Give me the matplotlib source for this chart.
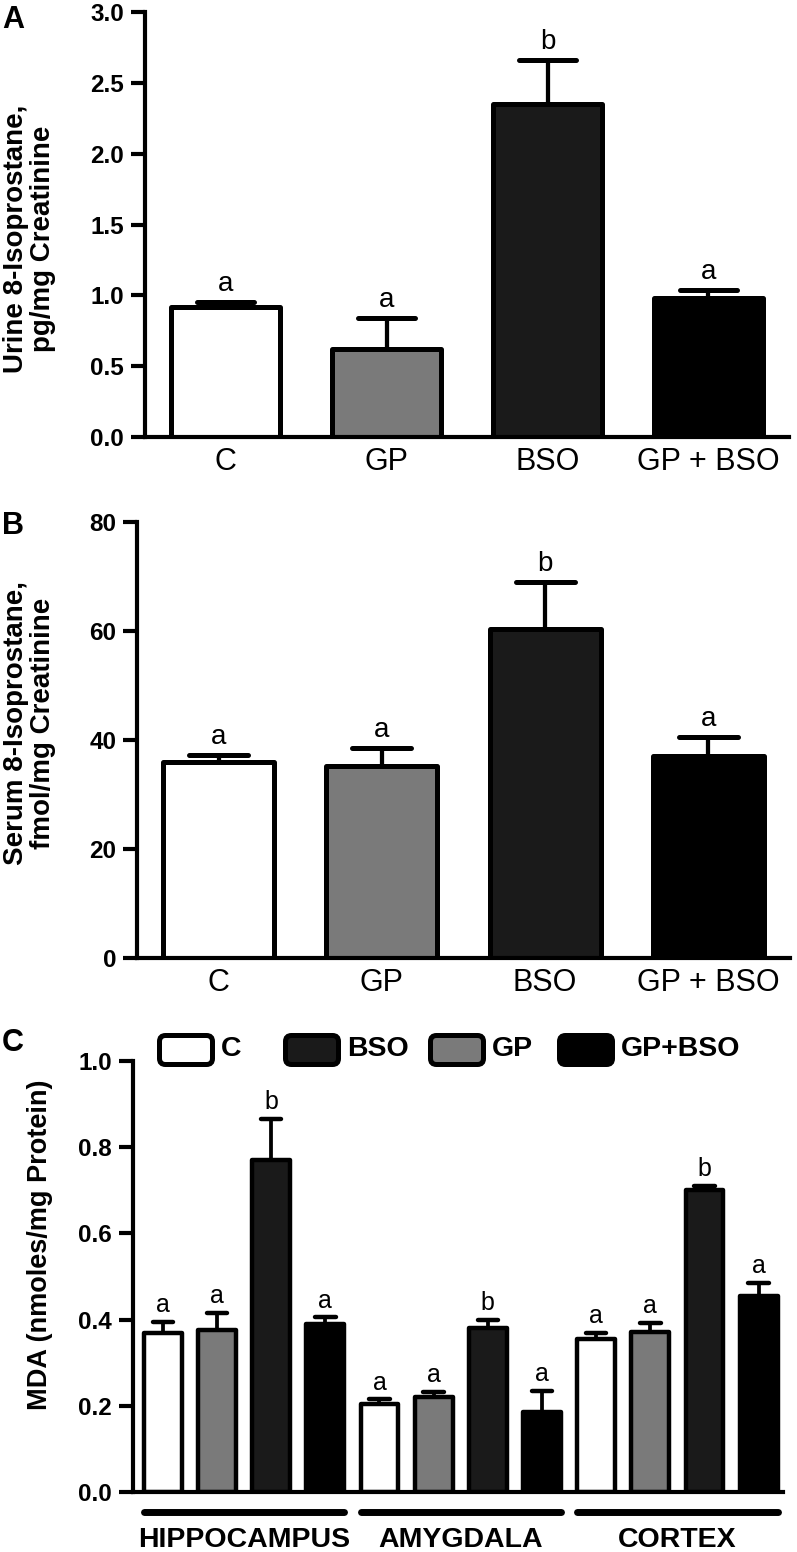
import matplotlib.pyplot as plt
from matplotlib.patches import FancyBboxPatch

plt.rcParams['font.family'] = ['Liberation Sans', 'DejaVu Sans']

# --- data ---
groups = ['C', 'GP', 'BSO', 'GP + BSO']
bar_colors = ['white', '#7a7a7a', '#1a1a1a', 'black']

urine_mean = [0.92, 0.62, 2.35, 0.98]
urine_sem = [0.035, 0.22, 0.31, 0.06]
urine_sig = ['a', 'a', 'b', 'a']

serum_mean = [36.0, 35.2, 60.3, 37.0]
serum_sem = [1.3, 3.4, 8.6, 3.6]
serum_sig = ['a', 'a', 'b', 'a']

regions = ['HIPPOCAMPUS', 'AMYGDALA', 'CORTEX']
mda_c = [0.37, 0.205, 0.355]
mda_gp = [0.375, 0.22, 0.372]
mda_bso = [0.77, 0.38, 0.70]
mda_gpbso = [0.39, 0.185, 0.455]
mda_c_sem = [0.025, 0.01, 0.015]
mda_gp_sem = [0.04, 0.012, 0.02]
mda_bso_sem = [0.095, 0.02, 0.01]
mda_gpbso_sem = [0.015, 0.05, 0.03]
mda_sig = ['a', 'a', 'b', 'a',  'a', 'a', 'b', 'a',  'a', 'a', 'b', 'a']

legend_labels = ['C', 'BSO', 'GP', 'GP+BSO']
legend_colors = ['white', '#1a1a1a', '#7a7a7a', 'black']

W, H = 797, 1552
fig = plt.figure(figsize=(W / 100, H / 100), dpi=100)


def px_rect(l, t, r, b):
    return [l / W, 1 - b / H, (r - l) / W, (b - t) / H]


def style(ax):
    for s in ['top', 'right']:
        ax.spines[s].set_visible(False)
    for s in ['left', 'bottom']:
        ax.spines[s].set_linewidth(3)
        ax.spines[s].set_capstyle('projecting')
    ax.tick_params(axis='y', direction='out', length=10, width=3, labelsize=17.5, pad=5)
    ax.tick_params(axis='x', length=0, labelsize=22, pad=7)
    for lbl in ax.get_yticklabels():
        lbl.set_fontweight('bold')


def draw_bars(ax, x, means, sems, colors, width, lw, capw, sig, sig_size, sig_off):
    ax.bar(x, means, width, color=colors, edgecolor='black', linewidth=lw,
           joinstyle='round', zorder=2)
    tops = [m + s for m, s in zip(means, sems)]
    ax.vlines(x, means, tops, color='black', linewidth=lw * 0.85, zorder=1)
    ax.hlines(tops, [xi - capw / 2 for xi in x], [xi + capw / 2 for xi in x],
              color='black', linewidth=lw, capstyle='round', zorder=3)
    for xi, t, s in zip(x, tops, sig):
        ax.annotate(s, (xi, t), xytext=(0, sig_off), textcoords='offset points',
                    ha='center', va='baseline', fontsize=sig_size)


# panel A
axA = fig.add_axes(px_rect(145, 12, 789, 437))
xa = list(range(len(groups)))
draw_bars(axA, xa, urine_mean, urine_sem, bar_colors, 0.68, 3.6, 0.36, urine_sig, 20, 8)
axA.set_xlim(-0.5, 3.5)
axA.set_ylim(0, 3.0)
axA.set_yticks([0.0, 0.5, 1.0, 1.5, 2.0, 2.5, 3.0])
axA.set_yticklabels(['0.0', '0.5', '1.0', '1.5', '2.0', '2.5', '3.0'])
axA.set_xticks(xa)
axA.set_xticklabels(groups)
style(axA)

# panel B
axB = fig.add_axes(px_rect(137, 522, 790, 958))
draw_bars(axB, xa, serum_mean, serum_sem, bar_colors, 0.68, 3.6, 0.36, serum_sig, 20, 8)
axB.set_xlim(-0.5, 3.5)
axB.set_ylim(0, 80)
axB.set_yticks([0, 20, 40, 60, 80])
axB.set_xticks(xa)
axB.set_xticklabels(groups)
style(axB)

# panel C
axC = fig.add_axes(px_rect(133, 1061, 783, 1492))
xc, mc, ec, cc = [], [], [], []
for r in range(len(regions)):
    vals = [mda_c[r], mda_gp[r], mda_bso[r], mda_gpbso[r]]
    errs = [mda_c_sem[r], mda_gp_sem[r], mda_bso_sem[r], mda_gpbso_sem[r]]
    for k in range(4):
        xc.append(r * 4 + k)
        mc.append(vals[k])
        ec.append(errs[k])
        cc.append(bar_colors[k])
draw_bars(axC, xc, mc, ec, cc, 0.7, 3.2, 0.38, mda_sig, 18, 7)
axC.set_xlim(-0.55, 11.45)
axC.set_ylim(0, 1.0)
axC.set_yticks([0.0, 0.2, 0.4, 0.6, 0.8, 1.0])
axC.set_yticklabels(['0.0', '0.2', '0.4', '0.6', '0.8', '1.0'])
axC.set_xticks([])
style(axC)
trans = axC.get_xaxis_transform()
for r, name in enumerate(regions):
    axC.plot([r * 4 - 0.35, r * 4 + 3.35], [-0.047, -0.047], color='black', lw=5,
             solid_capstyle='round', transform=trans, clip_on=False)
    axC.text(r * 4 + 1.5, -0.112, name, transform=trans, ha='center', va='center',
             fontsize=20.5, fontweight='bold')

# overlay in pixel units for labels and legend
ov = fig.add_axes([0, 0, 1, 1])
ov.set_xlim(0, W)
ov.set_ylim(H, 0)
ov.axis('off')
ov.patch.set_alpha(0)

for letter, y in [('A', 5), ('B', 511), ('C', 1028)]:
    ov.text(2, y, letter, fontsize=22, fontweight='bold', ha='left', va='top')

ov.text(30, 239, 'Urine 8-Isoprostane,\npg/mg Creatinine', rotation=90, ha='center',
        va='center', multialignment='center', fontsize=20, fontweight='bold', linespacing=1.05)
ov.text(30, 723, 'Serum 8-Isoprostane,\nfmol/mg Creatinine', rotation=90, ha='center',
        va='center', multialignment='center', fontsize=20, fontweight='bold', linespacing=1.05)
ov.text(40, 1245, 'MDA (nmoles/mg Protein)', rotation=90, ha='center', va='center',
        fontsize=19.5, fontweight='bold')

for x0, lab, col in zip([157, 283, 428, 557], legend_labels, legend_colors):
    ov.add_patch(FancyBboxPatch((x0 + 2.5, 1035.5), 53, 29,
                                boxstyle='round,pad=0,rounding_size=6',
                                facecolor=col, edgecolor='black', linewidth=3.6))
    ov.text(x0 + 64, 1049, lab, fontsize=20.5, fontweight='bold', ha='left', va='center')

fig.savefig('out.png', dpi=100)
